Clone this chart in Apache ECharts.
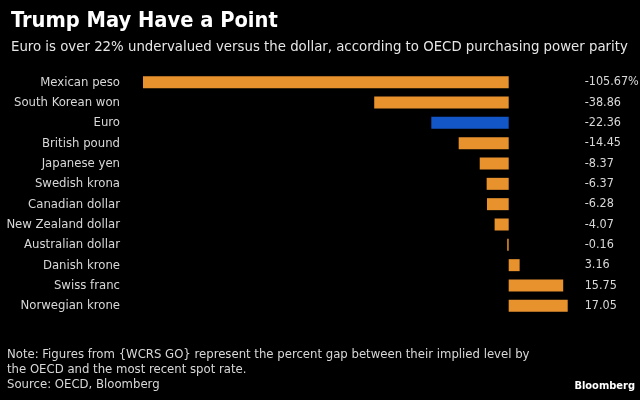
<!DOCTYPE html>
<html><head><meta charset="utf-8">
<script src="https://cdn.jsdelivr.net/npm/echarts@6/dist/echarts.min.js"></script>
<style>html,body{margin:0;padding:0;background:#000}#c{width:640px;height:400px}</style>
</head><body><div id="c"></div>
<script>
var categories = ["Mexican peso","South Korean won","Euro","British pound","Japanese yen","Swedish krona","Canadian dollar","New Zealand dollar","Australian dollar","Danish krone","Swiss franc","Norwegian krone"];
var values = [-105.67,-38.86,-22.36,-14.45,-8.37,-6.37,-6.28,-4.07,-0.16,3.16,15.75,17.05];
var valueLabels = ["-105.67%","-38.86","-22.36","-14.45","-8.37","-6.37","-6.28","-4.07","-0.16","3.16","15.75","17.05"];
var highlight = "Euro";
var FONT = '"DejaVu Sans Condensed","Liberation Sans Narrow","Open Sans",sans-serif';
var chart = echarts.init(document.getElementById('c'));
chart.setOption({
  backgroundColor:'#000',
  animation:false,
  title:[
    {text:'Trump May Have a Point', left:6, top:5, textStyle:{color:'#fff',fontSize:21.7,fontWeight:'bold',fontFamily:FONT}},
    {text:'Euro is over 22% undervalued versus the dollar, according to OECD purchasing power parity', left:6, top:35, textStyle:{color:'#e6e6e6',fontSize:14.8,fontWeight:'normal',fontFamily:FONT}}
  ],
  grid:{left:143,right:72.3,top:72,bottom:84,outerBoundsMode:'none',containLabel:false},
  xAxis:{type:'value',min:-105.67,max:17.05,show:false,splitLine:{show:false}},
  yAxis:[
    {type:'category',data:categories,inverse:true,axisLine:{show:false},axisTick:{show:false},
     axisLabel:{color:'#d8d8d8',fontSize:13,fontFamily:FONT,margin:23}},
    {type:'category',data:categories,inverse:true,position:'right',axisLine:{show:false},axisTick:{show:false},
     axisLabel:{color:'#d8d8d8',fontSize:12.5,fontFamily:FONT,margin:17,align:'left',
       formatter:function(v,i){return valueLabels[i];}}}
  ],
  series:[{type:'bar',barWidth:12,barMinHeight:1.5,
    data:values.map(function(v,i){return {value:v,itemStyle:{color:categories[i]===highlight?'#1356c8':'#e8922e'}};})
  }],
  graphic:[
    {type:'text',left:7,top:347,style:{text:'Note: Figures from {WCRS GO} represent the percent gap between their implied level by\nthe OECD and the most recent spot rate.\nSource: OECD, Bloomberg',fill:'#d8d8d8',font:'13px '+FONT,lineHeight:15}},
    {type:'text',right:5,top:381,style:{text:'Bloomberg',fill:'#ffffff',font:'bold 11px '+FONT}}
  ]
});
</script></body></html>
